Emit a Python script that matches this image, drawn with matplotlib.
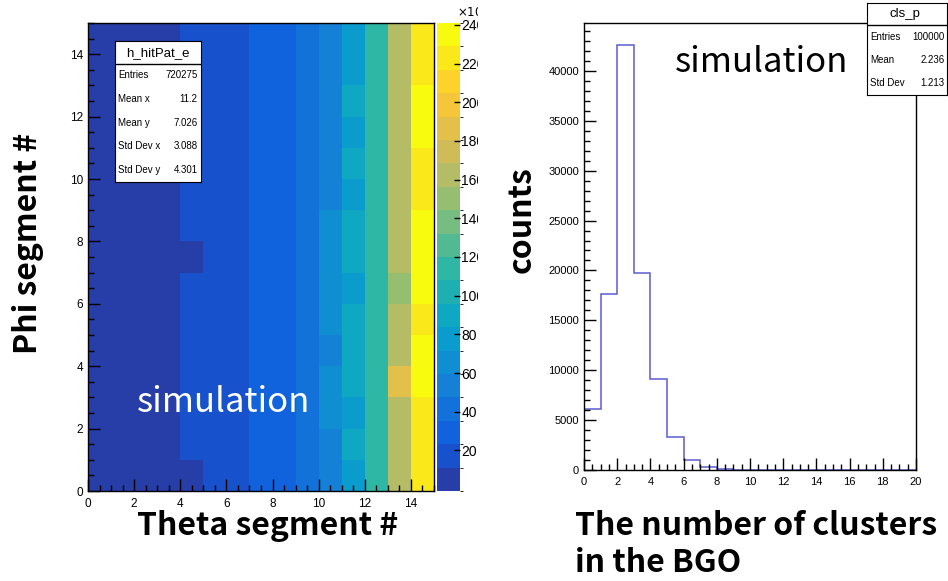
import matplotlib
matplotlib.use("Agg")
import matplotlib.pyplot as plt
from matplotlib.colors import LinearSegmentedColormap, ListedColormap, BoundaryNorm
from matplotlib.ticker import MultipleLocator
from matplotlib.transforms import Bbox, TransformedBbox

# --- data ---
theta_edges = list(range(16))
phi_edges = list(range(16))
# hits[phi][theta], colour scale units (x10^3)
hits = [
    [6, 6, 6, 6, 10, 20, 20, 30, 30, 42, 53, 78, 118, 165, 225],
    [6, 6, 6, 6, 18, 20, 20, 30, 30, 42, 53, 90, 118, 165, 225],
    [6, 6, 6, 6, 18, 20, 20, 30, 30, 42, 65, 78, 118, 165, 225],
    [6, 6, 6, 6, 18, 20, 20, 30, 30, 42, 65, 90, 118, 190, 236],
    [6, 6, 6, 6, 18, 20, 20, 30, 30, 42, 53, 90, 118, 165, 236],
    [6, 6, 6, 6, 18, 20, 20, 30, 30, 42, 65, 90, 118, 165, 225],
    [6, 6, 6, 6, 18, 20, 20, 30, 30, 42, 65, 78, 118, 150, 236],
    [6, 6, 6, 6, 10, 20, 20, 30, 30, 42, 65, 90, 118, 165, 236],
    [6, 6, 6, 6, 18, 20, 20, 30, 30, 42, 65, 90, 118, 165, 236],
    [6, 6, 6, 6, 18, 20, 20, 30, 30, 42, 53, 78, 118, 165, 225],
    [6, 6, 6, 6, 18, 20, 20, 30, 30, 42, 53, 90, 118, 165, 225],
    [6, 6, 6, 6, 18, 20, 20, 30, 30, 42, 53, 78, 118, 165, 236],
    [6, 6, 6, 6, 18, 20, 20, 30, 30, 42, 53, 90, 118, 165, 236],
    [6, 6, 6, 6, 18, 20, 20, 30, 30, 42, 53, 78, 118, 165, 222],
    [6, 6, 6, 6, 18, 20, 20, 30, 30, 42, 53, 78, 118, 165, 225],
]
z_min, z_max = -1, 241
cb_ticks = [20, 40, 60, 80, 100, 120, 140, 160, 180, 200, 220, 240]
hit_stats = [("Entries", "720275"), ("Mean x", "11.2"), ("Mean y", "7.026"),
             ("Std Dev x", "3.088"), ("Std Dev y", "4.301")]

cluster_edges = list(range(21))
cluster_counts = [6100, 17600, 42600, 19700, 9100, 3300, 1050, 330, 130, 50,
                  0, 0, 0, 0, 0, 0, 0, 0, 0, 0]
cls_stats = [("Entries", "100000"), ("Mean", "2.236"), ("Std Dev", "1.213")]

W, H = 948, 581
plt.rcParams['font.family'] = ['Liberation Sans', 'DejaVu Sans']
label_font = dict(family=['Noto Sans CJK JP', 'DejaVu Sans'], weight='bold', size=23)
sim_font = dict(family=['Noto Sans CJK JP', 'DejaVu Sans'], size=25)


def px(x0, y0, x1, y1):
    # pixel box (top-left origin) -> figure fraction rect
    return [x0 / W, 1 - y1 / H, (x1 - x0) / W, (y1 - y0) / H]


def root_ticks(ax, xmaj, xmin, ymaj, ymin, size=8.5):
    ax.xaxis.set_major_locator(MultipleLocator(xmaj))
    ax.xaxis.set_minor_locator(MultipleLocator(xmin))
    ax.yaxis.set_major_locator(MultipleLocator(ymaj))
    ax.yaxis.set_minor_locator(MultipleLocator(ymin))
    ax.tick_params(which='major', direction='in', length=8.5, width=1, labelsize=size)
    ax.tick_params(which='minor', direction='in', length=4.3, width=1)
    for s in ax.spines.values():
        s.set_linewidth(1)


# ROOT kBird palette, 20 contour levels (ROOT picks the colour at the top of each level)
stops = [0.0, 0.125, 0.25, 0.375, 0.5, 0.625, 0.75, 0.875, 1.0]
red = [0.2082, 0.0592, 0.0780, 0.0232, 0.1802, 0.5301, 0.8186, 0.9956, 0.9764]
green = [0.1664, 0.3599, 0.5041, 0.6419, 0.7178, 0.7492, 0.7328, 0.7862, 0.9832]
blue = [0.5293, 0.8684, 0.8385, 0.7914, 0.6425, 0.4662, 0.3499, 0.1968, 0.0539]
bird = LinearSegmentedColormap.from_list(
    'bird', [(s, (r, g, b)) for s, r, g, b in zip(stops, red, green, blue)])
nlev = 20
cmap = ListedColormap([bird(min((i + 0.99) / nlev, 1.0)) for i in range(nlev)])
levels = [z_min + (z_max - z_min) * i / nlev for i in range(nlev + 1)]
norm = BoundaryNorm(levels, nlev)

fig = plt.figure(figsize=(W / 100, H / 100), dpi=100)

# left: hit pattern
ax1 = fig.add_axes(px(88, 23, 434, 491))
mesh = ax1.pcolormesh(theta_edges, phi_edges, hits, cmap=cmap, norm=norm)
ax1.set_xlim(0, 15)
ax1.set_ylim(0, 15)
root_ticks(ax1, 2, 0.5, 2, 0.5)
ax1.tick_params(axis='x', pad=5)

cax = fig.add_axes(px(437, 23, 460, 491))
cb = fig.colorbar(mesh, cax=cax, ticks=cb_ticks)
cb.outline.set_visible(False)
cax.tick_params(direction='in', length=4.5, width=1, labelsize=10, pad=1)

# the left pad ends at x=478 px, so the z labels get cut there
pad_clip = TransformedBbox(Bbox([[0, 0], [478 / W, 1]]), fig.transFigure)
for lab in cax.get_yticklabels():
    lab.set_clip_box(pad_clip)
    lab.set_clip_on(True)
zexp = fig.text(457 / W, 1 - 12 / H, r'$\times10^{3}$', fontsize=8.5, va='center', ha='left')
zexp.set_clip_box(pad_clip)
zexp.set_clip_on(True)

fig.text(268 / W, 1 - 535 / H, 'Theta segment #', ha='center', va='baseline', **label_font)
fig.text(28 / W, 1 - 243 / H, 'Phi segment #', ha='center', va='center',
         rotation=90, **label_font)
fig.text(224 / W, 1 - 402 / H, 'simulation', color='white', ha='center', va='center',
         **sim_font)

# stats box h_hitPat_e
sb = fig.add_axes(px(115, 41, 201, 182))
sb.set_xticks([])
sb.set_yticks([])
sb.set_xlim(0, 1)
sb.set_ylim(1, 0)
sb.axhline((64 - 41) / 141, color='black', lw=1)
sb.text(0.5, (53 - 41) / 141, 'h_hitPat_e', ha='center', va='center', fontsize=9.5)
for i, (k, v) in enumerate(hit_stats):
    yy = (75 + 23.8 * i - 41) / 141
    sb.text(0.04, yy, k, ha='left', va='center', fontsize=7)
    sb.text(0.96, yy, v, ha='right', va='center', fontsize=7)

# right: clusters histogram
ax2 = fig.add_axes(px(584, 23, 916, 470))
ax2.stairs(cluster_counts, cluster_edges, color='#5c5cd0', lw=1.1)
ax2.set_xlim(0, 20)
ax2.set_ylim(0, 44800)
root_ticks(ax2, 2, 0.5, 5000, 1000, size=8)
ax2.tick_params(axis='x', pad=5)

fig.text(522 / W, 1 - 220 / H, 'counts', ha='center', va='center', rotation=90, **label_font)
fig.text(575 / W, 1 - 535 / H, 'The number of clusters', ha='left', va='baseline', **label_font)
fig.text(575 / W, 1 - 572 / H, 'in the BGO', ha='left', va='baseline', **label_font)
fig.text(762 / W, 1 - 62 / H, 'simulation', color='black', ha='center', va='center',
         **sim_font)

# stats box cls_p
sb2 = fig.add_axes(px(867, 3, 947, 95))
sb2.set_xticks([])
sb2.set_yticks([])
sb2.set_xlim(0, 1)
sb2.set_ylim(1, 0)
sb2.axhline((25 - 3) / 92, color='black', lw=1)
sb2.text(0.47, (14 - 3) / 92, 'cls_p', ha='center', va='center', fontsize=9.5)
for i, (k, v) in enumerate(cls_stats):
    yy = (37 + 23 * i - 3) / 92
    sb2.text(0.04, yy, k, ha='left', va='center', fontsize=7)
    sb2.text(0.97, yy, v, ha='right', va='center', fontsize=7)

fig.savefig('out.png', dpi=100)
